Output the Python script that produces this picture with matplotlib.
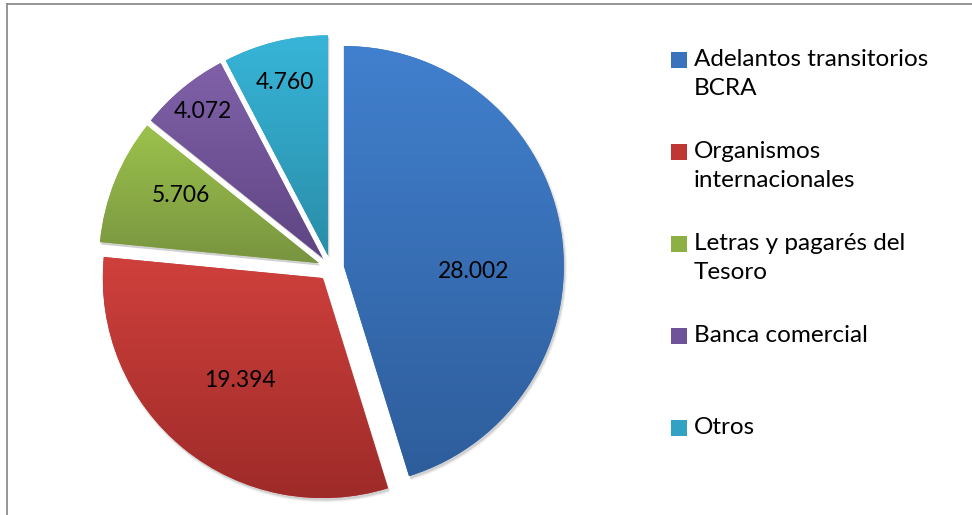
import numpy as np
import matplotlib

matplotlib.use("Agg")
import matplotlib.pyplot as plt
from matplotlib.colors import LinearSegmentedColormap
from matplotlib.lines import Line2D
from matplotlib.patches import Rectangle, Wedge

# --- data ----------------------------------------------------------------------
categories = [
    "Adelantos transitorios\nBCRA",
    "Organismos\ninternacionales",
    "Letras y pagarés del\nTesoro",
    "Banca comercial",
    "Otros",
]
values = [28002, 19394, 5706, 4072, 4760]
value_labels = ["28.002", "19.394", "5.706", "4.072", "4.760"]

# --- style ---------------------------------------------------------------------
TOP_COLORS = ["#4180CE", "#CF403C", "#9CC24C", "#8061A9", "#37B5D8"]
BOT_COLORS = ["#2E5D9B", "#9E2B29", "#789440", "#5F4583", "#2A8DA9"]
LEGEND_COLORS = ["#3A72BC", "#BE3733", "#8DB044", "#6F539A", "#31A2C4"]
LABEL_DIST = [0.59, 0.60, 0.70, 0.86, 0.81]
LABEL_TURN = [-11, 0, -4, 0, 0]   # degrees, nudges labels like Excel does
FONT = "Lato"

W, H = 972, 515
fig = plt.figure(figsize=(W / 100, H / 100), dpi=100)
ax = fig.add_axes([0, 0, 1, 1])

# chart border (top + left visible in the crop)
fig.add_artist(Line2D([7 / W, 1], [1 - 4 / H, 1 - 4 / H], transform=fig.transFigure,
                      color="#8C8C8C", lw=1.3))
fig.add_artist(Line2D([7 / W, 7 / W], [0, 1 - 4 / H], transform=fig.transFigure,
                      color="#8C8C8C", lw=1.3))

R = 220          # pie radius in pixels
EXPLODE = 13     # slice offset in pixels
center = (331, H - 268)
wedges, _ = ax.pie(values, startangle=90, counterclock=False,
                   explode=[EXPLODE] * len(values), radius=R, center=center,
                   colors=LEGEND_COLORS, frame=True,
                   wedgeprops=dict(linewidth=0, zorder=2))
ax.set_aspect("auto")
ax.set_xlim(0, W)
ax.set_ylim(0, H)
ax.axis("off")

grad = np.linspace(1, 0, 256).reshape(-1, 1)
for i, w in enumerate(wedges):
    # soft shadow
    for k, a in enumerate([0.10, 0.06, 0.03]):
        sh = Wedge((w.center[0] + 1.5, w.center[1] - 2.5), w.r + k, w.theta1, w.theta2,
                   facecolor="black", alpha=a, lw=0, zorder=1)
        ax.add_patch(sh)
    # vertical gradient clipped to the wedge
    ext = w.get_path().get_extents(w.get_patch_transform())
    cmap = LinearSegmentedColormap.from_list(f"g{i}", [BOT_COLORS[i], TOP_COLORS[i]])
    im = ax.imshow(grad, cmap=cmap, aspect="auto", origin="upper",
                   extent=[ext.x0, ext.x1, ext.y0, ext.y1], zorder=3,
                   interpolation="bilinear")
    im.set_clip_path(w)
    # value label
    tm = np.deg2rad((w.theta1 + w.theta2) / 2 + LABEL_TURN[i])
    ax.text(w.center[0] + LABEL_DIST[i] * R * np.cos(tm),
            w.center[1] + LABEL_DIST[i] * R * np.sin(tm),
            value_labels[i], ha="center", va="center", fontsize=16.5,
            family=FONT, color="black", zorder=5)

ax.set_aspect("auto")
ax.set_xlim(0, W)
ax.set_ylim(0, H)

# --- legend (Excel-style: marker aligned with first line) -----------------------
y0, step = H - 60, 92
for i, lab in enumerate(categories):
    y = y0 - i * step
    ax.add_patch(Rectangle((671, y - 8), 16, 16, facecolor=LEGEND_COLORS[i],
                           lw=0, zorder=4))
    ax.text(694, y + 11, lab, ha="left", va="top", fontsize=17.5, family=FONT,
            linespacing=1.47, color="black", zorder=4)

fig.savefig("out.png", dpi=100, facecolor="white")
